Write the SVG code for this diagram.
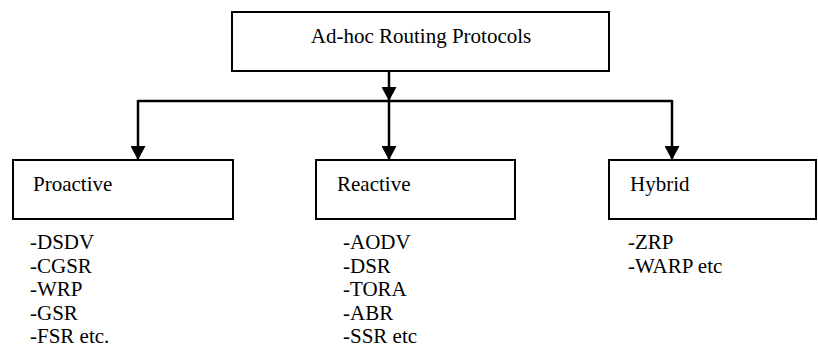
<svg xmlns="http://www.w3.org/2000/svg" width="818" height="349" viewBox="0 0 818 349">
<defs>
<style>
.box{fill:#fff;stroke:#000;stroke-width:2}
.t{font-family:'Liberation Serif','Times New Roman',Times,serif;font-size:21px;fill:#000}
.ln{fill:none;stroke:#000;stroke-width:2.5}
</style>
<marker id="ah" viewBox="0 0 14 15" refX="14" refY="7.5" markerWidth="14" markerHeight="15" markerUnits="userSpaceOnUse" orient="auto">
<path d="M0,0 L14,7.5 L0,15 Z" fill="#000"/>
</marker>
</defs>
<rect width="818" height="349" fill="#fff"/>
<g id="connectors">
<line class="ln" x1="389" y1="71" x2="389" y2="101" marker-end="url(#ah)"/>
<polyline class="ln" points="138,101 672,101"/>
<line class="ln" x1="138" y1="100" x2="138" y2="160" marker-end="url(#ah)"/>
<line class="ln" x1="389" y1="101" x2="389" y2="160" marker-end="url(#ah)"/>
<line class="ln" x1="672" y1="100" x2="672" y2="160" marker-end="url(#ah)"/>
</g>
<g id="root">
<rect class="box" x="232" y="12" width="377" height="59"/>
<text class="t" x="421" y="43" text-anchor="middle" font-family="Liberation Serif, serif">Ad-hoc Routing Protocols</text>
</g>
<g id="proactive">
<rect class="box" x="13" y="160" width="220" height="59"/>
<text class="t" x="33" y="191">Proactive</text>
<text class="t" x="30" y="249">-DSDV</text>
<text class="t" x="30" y="272.5">-CGSR</text>
<text class="t" x="30" y="296">-WRP</text>
<text class="t" x="30" y="319.5">-GSR</text>
<text class="t" x="30" y="343">-FSR etc.</text>
</g>
<g id="reactive">
<rect class="box" x="316" y="160" width="199" height="59"/>
<text class="t" x="337" y="191">Reactive</text>
<text class="t" x="343" y="249">-AODV</text>
<text class="t" x="343" y="272.5">-DSR</text>
<text class="t" x="343" y="296">-TORA</text>
<text class="t" x="343" y="319.5">-ABR</text>
<text class="t" x="343" y="343">-SSR etc</text>
</g>
<g id="hybrid">
<rect class="box" x="609" y="160" width="207" height="59"/>
<text class="t" x="630" y="191">Hybrid</text>
<text class="t" x="628" y="249">-ZRP</text>
<text class="t" x="628" y="272.5">-WARP etc</text>
</g>
</svg>
